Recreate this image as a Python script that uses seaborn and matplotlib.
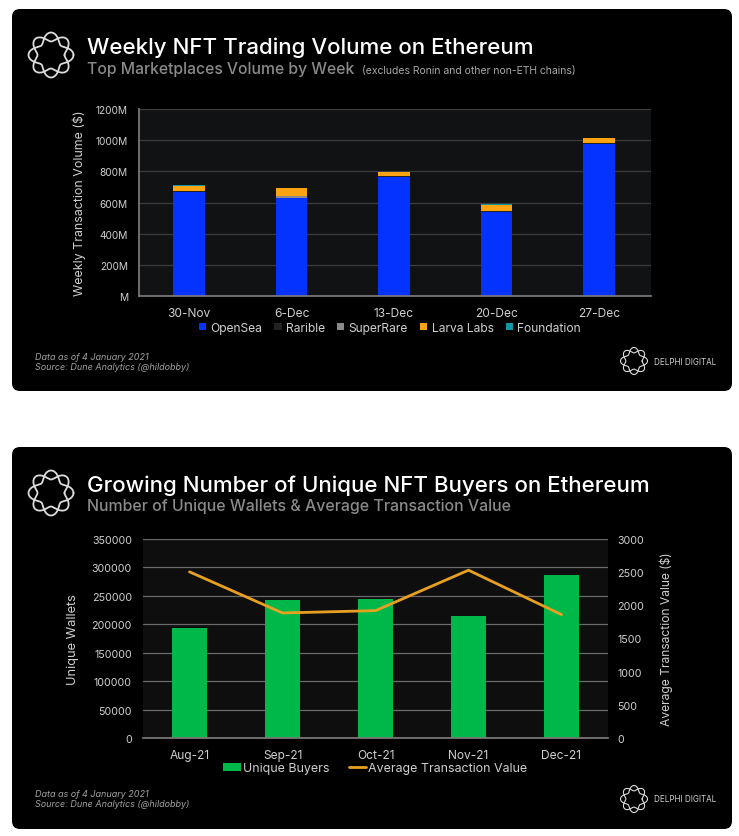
#!/usr/bin/env python3

import numpy as np
import pandas as pd
import matplotlib
matplotlib.use("Agg")
import matplotlib.pyplot as plt
from matplotlib.patches import FancyBboxPatch
from matplotlib.ticker import FuncFormatter
import seaborn as sns

weeks = ["30-Nov", "6-Dec", "13-Dec", "20-Dec", "27-Dec"]
opensea = [669, 627, 766, 541, 977]
rarible = [3, 4, 3, 2, 3]
superrare = [2, 9, 2, 1, 2]
larva_labs = [32, 50, 26, 42, 30]
foundation = [4, 1, 1, 5, 4]

months = ["Aug-21", "Sep-21", "Oct-21", "Nov-21", "Dec-21"]
unique_buyers = [194000, 243500, 245000, 215000, 287000]
avg_value = [2505, 1885, 1920, 2530, 1860]

W, H = 739, 837
BG = "#000000"
TICK = "#cfcfcf"

sns.set_theme(style="dark")
plt.rcParams["font.family"] = ["Inter", "DejaVu Sans"]

fig = plt.figure(figsize=(W / 100, H / 100), dpi=100, facecolor="white")
back = fig.add_axes([0, 0, 1, 1], zorder=0)
back.set_xlim(0, W)
back.set_ylim(H, 0)
back.axis("off")


def axes_px(x0, y0, x1, y1, panel):
    a = fig.add_axes([x0 / W, 1 - y1 / H, (x1 - x0) / W, (y1 - y0) / H], zorder=1)
    a.set_facecolor(panel)
    return a


def logo(cx, cy, r, lw):
    t = np.linspace(0, 2 * np.pi, 600)
    for sign in (1, -1):
        rad = r * (0.8 + sign * 0.2 * np.cos(4 * t))
        back.plot(cx + rad * np.cos(t), cy + rad * np.sin(t), color="#dcdcdc", lw=lw)


def card(y0, title, subtitle, sub_size, note=None):
    back.add_patch(FancyBboxPatch((18, y0 + 6), 708, 370, boxstyle="round,pad=6,rounding_size=8",
                                  fc=BG, ec="none"))
    logo(51, y0 + 46, 22.5, 1.3)
    back.text(87, y0 + 38, title, color="white", fontsize=16.05, fontweight="medium", va="center")
    back.text(87, y0 + 59, subtitle, color="#8a8a8a", fontsize=sub_size, fontweight="medium", va="center")
    if note:
        back.text(362, y0 + 61, note, color="#a8a8a8", fontsize=7.5, va="center")
    back.text(35, y0 + 347, "Data as of 4 January 2021", color="#a0a0a0", fontsize=6.5,
              style="italic", va="center")
    back.text(35, y0 + 357, "Source: Dune Analytics (@hildobby)", color="#a0a0a0", fontsize=6.5,
              style="italic", va="center")
    logo(634, y0 + 352, 13.5, 0.8)
    back.text(654, y0 + 352, "DELPHI DIGITAL", color="#d0d0d0", fontsize=5.8, va="center")


def style_axes(a, grid, ysize, ypad):
    a.set_xlabel("")
    a.grid(axis="y", color=grid, lw=0.9)
    a.grid(axis="x", visible=False)
    a.set_axisbelow(True)
    a.tick_params(axis="x", colors=TICK, labelsize=8.6, length=0, pad=8)
    a.tick_params(axis="y", colors=TICK, labelsize=ysize, length=0, pad=ypad)
    for s in a.spines.values():
        s.set_visible(False)
    a.spines["bottom"].set_visible(True)
    a.spines["bottom"].set_color("#7a7a7a")


card(10, "Weekly NFT Trading Volume on Ethereum", "Top Marketplaces Volume by Week", 11.3,
     "(excludes Ronin and other non-ETH chains)")
card(448, "Growing Number of Unique NFT Buyers on Ethereum",
     "Number of Unique Wallets & Average Transaction Value", 11.45)

# Marketplaces, stacked by drawing the running totals from the top down
df = pd.DataFrame({"OpenSea": opensea, "Rarible": rarible, "SuperRare": superrare,
                   "Larva Labs": larva_labs, "Foundation": foundation}, index=weeks)
colors = {"OpenSea": "#0432ff", "Rarible": "#222222", "SuperRare": "#8a8a8a",
          "Larva Labs": "#fca311", "Foundation": "#0f97a8"}
totals = df.cumsum(axis=1)

ax1 = axes_px(139, 110, 651, 297, "#101213")
for name in reversed(df.columns):
    sns.barplot(x=weeks, y=totals[name].values, color=colors[name], saturation=1, width=0.31,
                linewidth=0, label=name, legend=False, ax=ax1)
ax1.set_xlim(-0.49, 4.51)
ax1.set_ylim(0, 1200)
ax1.set_yticks(range(0, 1201, 200))
ax1.yaxis.set_major_formatter(FuncFormatter(lambda v, _: f"{int(v)}M" if v else "M"))
style_axes(ax1, "#3a3b3b", 7.3, 8)
ax1.spines["left"].set_visible(True)
ax1.spines["left"].set_color("#7a7a7a")
ax1.set_ylabel("Weekly Transaction Volume ($)", color=TICK, fontsize=8.95, labelpad=7)
handles, labels = ax1.get_legend_handles_labels()
ax1.legend(handles[::-1], labels[::-1], ncol=5, loc="center", bbox_to_anchor=(0.49, -0.17),
           frameon=False, labelcolor=TICK, fontsize=8.7, handlelength=0.6, handleheight=0.6,
           handletextpad=0.35, columnspacing=1.0)

# Unique buyers with the average value on a second axis
ax2 = axes_px(143, 540, 608, 739, "#0e0e0e")
sns.barplot(x=months, y=unique_buyers, color="#00b84a", saturation=1, width=0.366,
            linewidth=0, label="Unique Buyers", legend=False, ax=ax2)
ax2.set_ylim(0, 350000)
ax2.set_yticks(range(0, 350001, 50000))
style_axes(ax2, "#6a6a6a", 7.7, 8)
ax2.set_ylabel("Unique Wallets", color=TICK, fontsize=9.2, labelpad=9)

ax3 = ax2.twinx()
sns.lineplot(x=months, y=avg_value, color="#e8a020", lw=2.0, sort=False,
             label="Average Transaction Value", legend=False, ax=ax3)
ax3.set_xlim(-0.5, 4.5)
ax3.set_ylim(0, 3000)
ax3.set_yticks(range(0, 3001, 500))
ax3.tick_params(colors=TICK, labelsize=7.7, length=0, pad=6.5)
ax3.grid(False)
for s in ax3.spines.values():
    s.set_visible(False)
ax3.set_ylabel("Average Transaction Value ($)", color=TICK, fontsize=8.7, labelpad=11)

h2, l2 = ax2.get_legend_handles_labels()
h3, l3 = ax3.get_legend_handles_labels()
ax3.legend(h2 + h3, l2 + l3, ncol=2, loc="center", bbox_to_anchor=(0.5, -0.152),
           frameon=False, labelcolor=TICK, fontsize=8.95, handlelength=1.4,
           handletextpad=0.2, columnspacing=1.5)

fig.savefig("out.png", dpi=100, facecolor="white")
